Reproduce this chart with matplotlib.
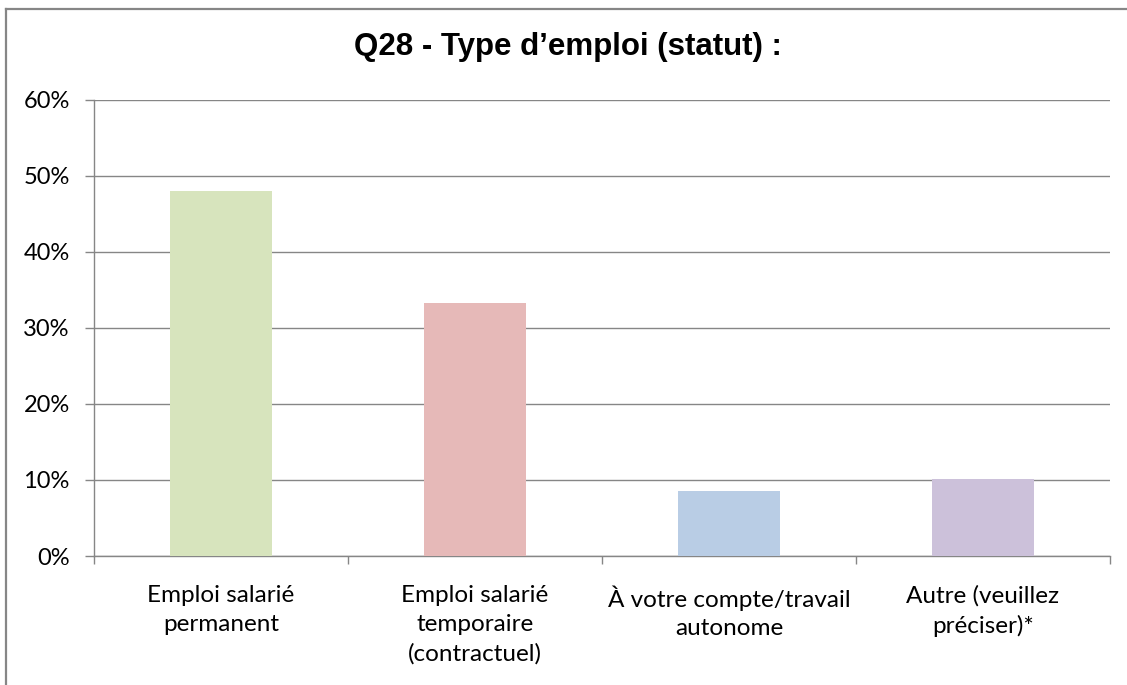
import matplotlib.pyplot as plt
from matplotlib.lines import Line2D
from matplotlib.ticker import PercentFormatter, FixedLocator, NullFormatter

categories = ['Emploi salarié\npermanent',
              'Emploi salarié\ntemporaire\n(contractuel)',
              'À votre compte/travail\nautonome',
              'Autre (veuillez\npréciser)*']
values = [48.0, 33.3, 8.6, 10.1]
colors = ['#D7E4BD', '#E6B9B8', '#B9CDE5', '#CCC1DA']
yticks = [0, 10, 20, 30, 40, 50, 60]

plt.rcParams['font.family'] = ['Lato', 'DejaVu Sans']
grey = '#868686'

fig = plt.figure(figsize=(11.27, 6.85), dpi=100)
ax = fig.add_axes([0.0834, 0.1883, 0.9015, 0.6661])

x = list(range(len(categories)))
ax.bar(x, values, width=0.4, color=colors, zorder=3)

ax.set_xlim(-0.5, len(categories) - 0.5)
ax.set_ylim(0, 60)
ax.set_yticks(yticks)
ax.yaxis.set_major_formatter(PercentFormatter(decimals=0))
ax.grid(axis='y', color=grey, linewidth=1.0, zorder=0)

# category labels centred, ticks at boundaries
ax.xaxis.set_major_locator(FixedLocator([i - 0.5 for i in range(len(categories) + 1)]))
ax.xaxis.set_major_formatter(NullFormatter())
ax.xaxis.set_minor_locator(FixedLocator(x))
ax.set_xticklabels(categories, minor=True, fontsize=17.5, color='#000000')
for lbl in ax.get_xticklabels(minor=True):
    lbl.set_linespacing(1.45)
ax.tick_params(axis='x', which='minor', length=0, pad=21)
ax.tick_params(axis='x', which='major', length=6, width=1.0, color=grey, direction='out')
ax.tick_params(axis='y', length=6.5, width=1.0, color=grey, labelsize=17, pad=11)

for s in ['top', 'right']:
    ax.spines[s].set_visible(False)
for s in ['left', 'bottom']:
    ax.spines[s].set_color(grey)
    ax.spines[s].set_linewidth(1.0)

fig.text(0.504, 0.931, 'Q28 - Type d\u2019emploi (statut) :', ha='center', va='center',
         fontsize=22.5, fontweight='bold', family=['Liberation Sans', 'DejaVu Sans'])

# outer chart border (top and left visible)
fig.add_artist(Line2D([6 / 1127, 1.0], [1 - 9 / 685, 1 - 9 / 685], transform=fig.transFigure,
                      color=grey, linewidth=1.6))
fig.add_artist(Line2D([6 / 1127, 6 / 1127], [0.0, 1 - 9 / 685], transform=fig.transFigure,
                      color=grey, linewidth=1.6))

fig.savefig('out.png', dpi=100)
